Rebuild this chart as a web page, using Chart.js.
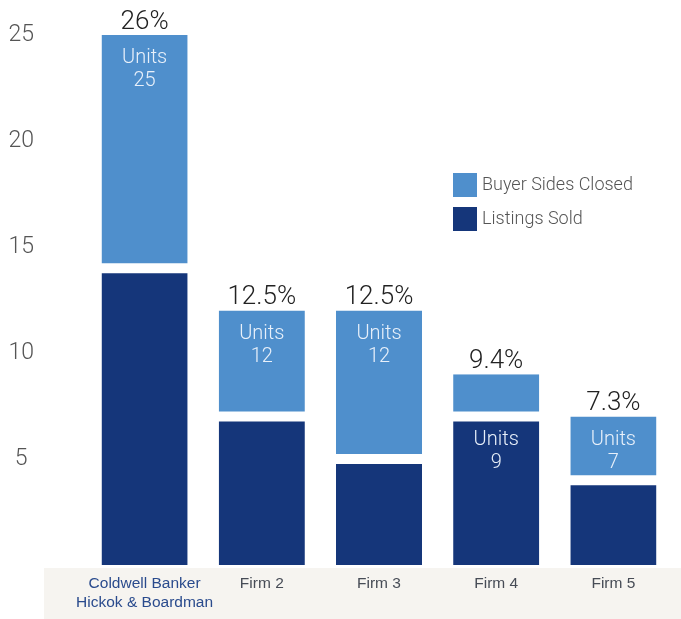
<!DOCTYPE html>
<html>
<head>
<meta charset="utf-8">
<script src="https://cdn.jsdelivr.net/npm/chart.js@4/dist/chart.umd.min.js"></script>
<style>
  html, body { margin: 0; padding: 0; background: #fff; }
  #wrap { width: 681px; height: 619px; position: relative; }
</style>
</head>
<body>
<div id="wrap"><canvas id="chart"></canvas></div>
<script>
// data
const firms = [['Coldwell Banker', 'Hickok & Boardman'], 'Firm 2', 'Firm 3', 'Firm 4', 'Firm 5'];
const listingsSold = [14, 7, 5, 7, 4];
const buyerSidesClosed = [11, 5, 7, 2, 3];
const marketShare = ['26%', '12.5%', '12.5%', '9.4%', '7.3%'];
// which segment carries the "Units" label (0 = listings, 1 = buyer sides)
const unitsLabelOn = [1, 1, 1, 0, 1];
const yTicks = [5, 10, 15, 20, 25];

const LIGHT = '#4f8fcc';
const DARK = '#15367a';
const FONT = 'Roboto, "Liberation Sans", Arial, sans-serif';

// beige band behind the category labels
const bandPlugin = {
  id: 'band',
  beforeDraw(chart) {
    const { ctx, chartArea } = chart;
    ctx.save();
    ctx.fillStyle = '#f6f4f0';
    ctx.fillRect(44, chartArea.bottom + 3, chart.width - 44, chart.height - chartArea.bottom - 3);
    ctx.restore();
  }
};

// percent above each bar, units inside a segment, and the legend
const labelPlugin = {
  id: 'labels',
  afterDatasetsDraw(chart) {
    const { ctx } = chart;
    const metaDark = chart.getDatasetMeta(0);
    const metaLight = chart.getDatasetMeta(1);
    ctx.save();
    ctx.textAlign = 'center';
    ctx.textBaseline = 'middle';
    firms.forEach((f, i) => {
      const top = metaLight.data[i];
      ctx.fillStyle = '#222';
      ctx.font = '300 26px ' + FONT;
      ctx.fillText(marketShare[i], top.x, top.y - 13);

      const seg = unitsLabelOn[i] === 1 ? metaLight.data[i] : metaDark.data[i];
      const total = listingsSold[i] + buyerSidesClosed[i];
      ctx.fillStyle = '#e8f0fa';
      ctx.font = '300 20px ' + FONT;
      ctx.fillText('Units', seg.x, seg.y + 23);
      ctx.fillText(String(total), seg.x, seg.y + 46);
    });

    // legend
    const items = [['Buyer Sides Closed', LIGHT], ['Listings Sold', DARK]];
    ctx.textAlign = 'left';
    ctx.font = '300 18px ' + FONT;
    items.forEach((it, k) => {
      const y = 173 + k * 34;
      ctx.fillStyle = it[1];
      ctx.fillRect(453, y, 24, 24);
      ctx.fillStyle = '#555';
      ctx.fillText(it[0], 482, y + 12);
    });
    ctx.restore();
  }
};

const ctx = document.getElementById('chart').getContext('2d');
new Chart(ctx, {
  type: 'bar',
  data: {
    labels: firms,
    datasets: [
      {
        label: 'Listings Sold',
        data: listingsSold,
        backgroundColor: DARK,
        borderColor: '#fff',
        borderSkipped: false,
        borderWidth: { top: 5, bottom: 0, left: 0, right: 0 },
        barPercentage: 0.735,
        categoryPercentage: 1
      },
      {
        label: 'Buyer Sides Closed',
        data: buyerSidesClosed,
        backgroundColor: LIGHT,
        borderColor: '#fff',
        borderSkipped: false,
        borderWidth: { top: 0, bottom: 5, left: 0, right: 0 },
        barPercentage: 0.735,
        categoryPercentage: 1
      }
    ]
  },
  options: {
    responsive: true,
    maintainAspectRatio: false,
    animation: false,
    layout: { padding: { top: 35, right: 9, left: 0, bottom: 0 } },
    plugins: {
      legend: { display: false },
      tooltip: { enabled: false }
    },
    scales: {
      x: {
        stacked: true,
        grid: { display: false, drawTicks: false },
        border: { display: false },
        afterFit(scale) {
          scale.height = 54;
          scale.paddingLeft = 0;
          scale.paddingRight = 0;
        },
        ticks: {
          padding: 9,
          autoSkip: false,
          maxRotation: 0,
          font: { family: '"Liberation Sans", Arial, sans-serif', size: 15.5, lineHeight: 1.23 },
          color: (c) => c.index === 0 ? '#2a4b8d' : '#474c56'
        }
      },
      y: {
        stacked: true,
        min: 0,
        max: 25,
        grid: { display: false },
        border: { display: false },
        afterFit(scale) {
          scale.width = 86;
          scale.paddingTop = 0;
          scale.paddingBottom = 0;
        },
        afterBuildTicks(scale) { scale.ticks = yTicks.map(v => ({ value: v })); },
        ticks: {
          crossAlign: 'center',
          padding: 44,
          font: { family: FONT, size: 23, weight: 300 },
          color: '#555'
        }
      }
    }
  },
  plugins: [bandPlugin, labelPlugin]
});
</script>
</body>
</html>
